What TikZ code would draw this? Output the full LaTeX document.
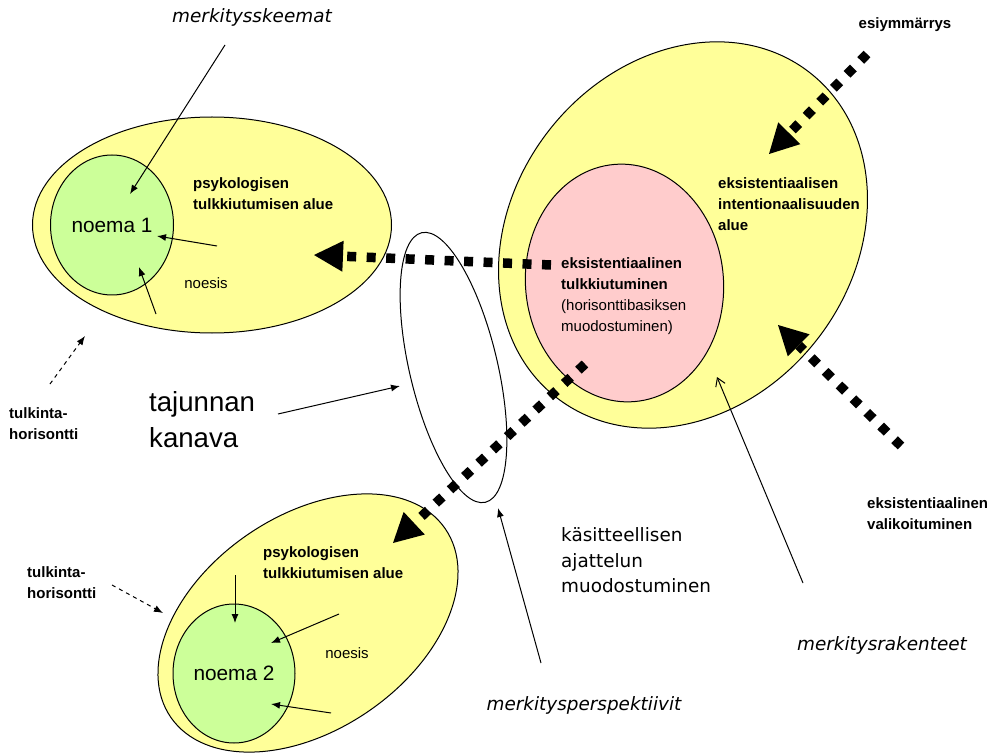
\documentclass[tikz,border=0pt]{standalone}
\usepackage{fontspec}
\setmainfont{Liberation Sans}
\newfontfamily\verdana{DejaVu Sans}
\usetikzlibrary{arrows.meta,shapes.geometric}

\definecolor{yelfill}{HTML}{FFFF99}
\definecolor{pinkfill}{HTML}{FFCCCC}
\definecolor{greenfill}{HTML}{CCFF99}

\tikzset{
  area/.style={ellipse, draw, line width=1pt, inner sep=0pt},
  noemafont/.style={font=\fontsize{20.8}{25}\selectfont},
  smalltxt/.style={inner sep=0pt, align=left, font=\fontsize{15}{21}\selectfont},
  boldtxt/.style={inner sep=0pt, align=left, font=\fontsize{15}{21}\selectfont\bfseries},
  vtxt/.style={inner sep=0pt, align=left, font=\verdana\fontsize{18.4}{25.5}\selectfont},
  vital/.style={inner sep=0pt, font=\verdana\itshape\fontsize{18.4}{25.5}\selectfont},
  thinarrow/.style={line width=1pt, -{Latex[length=9pt,width=7pt]}},
  dasharrow/.style={thinarrow, dash pattern=on 4pt off 4pt},
  openarrow/.style={line width=1pt, -{Straight Barb[length=8pt,width=10pt]}},
  fatdots/.style={line width=9.5pt, dash pattern=on 9pt off 10.5pt,
    -{Triangle[length=29pt,width=31pt,line width=0pt]}},
}

\begin{document}
\begin{tikzpicture}[x=1pt,y=-1pt]
\useasboundingbox (0,0) rectangle (1002,754);

\node[area, fill=yelfill, minimum width=359pt, minimum height=216pt] (psy1) at (212,225) {};
\node[area, fill=greenfill, noemafont, minimum width=123pt, minimum height=140pt] (noema1) at (112,225) {noema 1};

\node[area, fill=yelfill, minimum width=412pt, minimum height=340pt, rotate=52] (eksist) at (683,235) {};
\node[area, fill=pinkfill, minimum width=198pt, minimum height=238pt, rotate=5] (tulk) at (624.5,283) {};

\node[area, minimum width=277pt, minimum height=88pt, rotate=103.3] (kanava) at (453.5,367.5) {};

\node[area, fill=yelfill, minimum width=333pt, minimum height=214pt, rotate=34.5] (psy2) at (308,623) {};
\node[area, fill=greenfill, noemafont, minimum width=122pt, minimum height=139pt] (noema2) at (234,673.5) {noema 2};

\node[vital] (skeemat) at (252,17) {merkitysskeemat};
\node[boldtxt, anchor=west] (psylab1) at (193,193.5) {psykologisen\\tulkkiutumisen alue};
\node[smalltxt] (noesis1) at (206,283) {noesis};
\node[boldtxt, anchor=west] (eksistlab) at (718,204) {eksistentiaalisen\\intentionaalisuuden\\alue};
\node[smalltxt, anchor=west] (tulklab) at (561,296)
  {\textbf{eksistentiaalinen}\\\textbf{tulkkiutuminen}\\(horisonttibasiksen\\muodostuminen)};
\node[boldtxt] (esiym) at (905,25) {esiymmärrys};
\node[boldtxt, anchor=west] (valik) at (867,513.5) {eksistentiaalinen\\valikoituminen};
\node[inner sep=0pt, align=left, anchor=west, font=\fontsize{27.6}{36}\selectfont] (kanavalab) at (149,420) {tajunnan\\kanava};
\node[boldtxt, anchor=west] (hor1) at (9,423.5) {tulkinta-\\horisontti};
\node[boldtxt, anchor=west] (hor2) at (27,583) {tulkinta-\\horisontti};
\node[boldtxt, anchor=west] (psylab2) at (263,563) {psykologisen\\tulkkiutumisen alue};
\node[smalltxt] (noesis2) at (347,653) {noesis};
\node[vtxt, anchor=west] (kasit) at (561,560.5) {käsitteellisen\\ajattelun\\muodostuminen};
\node[vital] (persp) at (584,705) {merkitysperspektiivit};
\node[vital] (rakent) at (882,645) {merkitysrakenteet};

\coordinate (sk1) at (225,45);   \coordinate (sk2) at (130,194);
\coordinate (ns1) at (217,246);  \coordinate (ns2) at (157,236);
\coordinate (ns3) at (156,314);  \coordinate (ns4) at (139,267);
\coordinate (kn1) at (278,414);  \coordinate (kn2) at (400,386);
\coordinate (hz1) at (50,384);   \coordinate (hz2) at (85,336);
\coordinate (hz3) at (112,585);  \coordinate (hz4) at (163,613);
\coordinate (ns5) at (235,575);  \coordinate (ns6) at (235,623);
\coordinate (ns7) at (339,614);  \coordinate (ns8) at (271,643);
\coordinate (ns9) at (331,713);  \coordinate (ns10) at (271,704);
\coordinate (pe1) at (541,663);  \coordinate (pe2) at (498,508);
\coordinate (ra1) at (803,583);  \coordinate (ra2) at (717,377);

\draw[thinarrow] (sk1) -- (sk2);
\draw[thinarrow] (ns1) -- (ns2);
\draw[thinarrow] (ns3) -- (ns4);
\draw[thinarrow] (kn1) -- (kn2);
\draw[dasharrow] (hz1) -- (hz2);
\draw[dasharrow] (hz3) -- (hz4);
\draw[thinarrow] (ns5) -- (ns6);
\draw[thinarrow] (ns7) -- (ns8);
\draw[thinarrow] (ns9) -- (ns10);
\draw[thinarrow] (pe1) -- (pe2);
\draw[openarrow] (ra1) -- (ra2);

\coordinate (es1) at (867,54);   \coordinate (es2) at (769,154);
\coordinate (va1) at (901,446);  \coordinate (va2) at (778,325);
\coordinate (tu1) at (551,265);  \coordinate (tu2) at (314,255);
\coordinate (tu3) at (585,364);  \coordinate (tu4) at (393,543);

\draw[fatdots] (es1) -- (es2);
\draw[fatdots] (va1) -- (va2);
\draw[fatdots] (tu1) -- (tu2);
\draw[fatdots] (tu3) -- (tu4);
\end{tikzpicture}
\end{document}
